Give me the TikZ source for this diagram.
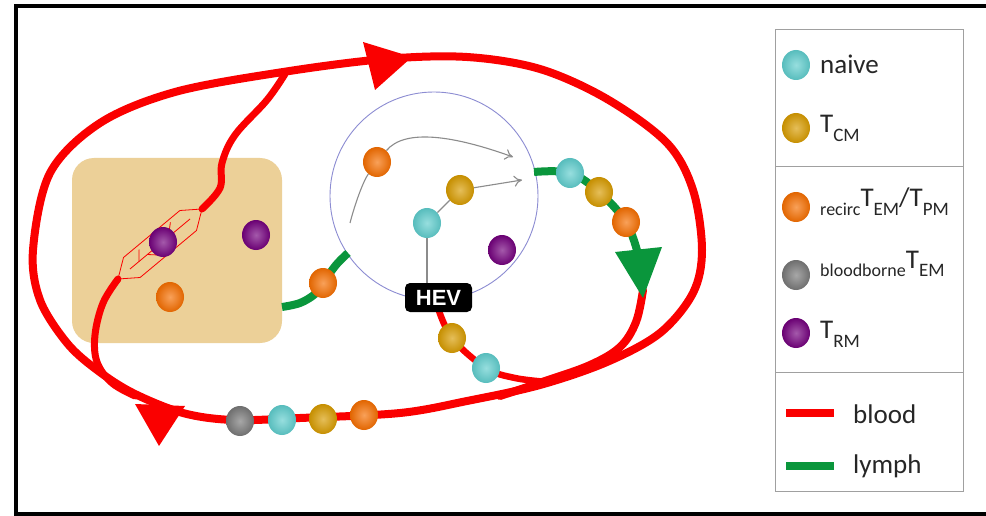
\documentclass[tikz,border=0pt]{standalone}
\usepackage{fontspec}
\setmainfont{Carlito}
\newfontfamily\hevfont{Liberation Sans}
\usetikzlibrary{shapes.geometric, arrows.meta}

\definecolor{blood}{RGB}{250,0,0}
\definecolor{lymph}{RGB}{10,150,60}
\definecolor{naivec}{RGB}{95,205,205}
\definecolor{tcm}{RGB}{215,155,0}
\definecolor{tem}{RGB}{245,110,0}
\definecolor{tbb}{RGB}{120,120,120}
\definecolor{trm}{RGB}{115,0,125}
\definecolor{tissue}{RGB}{236,208,152}
\definecolor{nodeline}{RGB}{140,140,210}
\definecolor{guide}{RGB}{140,140,140}
\definecolor{legline}{RGB}{160,160,160}

% big T with a lowered subscript, and a lowered prefix
\newcommand{\Tsub}[1]{{\fontsize{27}{27}\selectfont T}\raisebox{-9pt}{\fontsize{19}{19}\selectfont #1}}
\newcommand{\lowpre}[1]{\raisebox{-9pt}{\fontsize{18}{18}\selectfont #1}}

\tikzset{
  cell/.style={ellipse, minimum width=28pt, minimum height=30pt, inner sep=0pt,
    shading=radial, inner color=#1!65!white, outer color=#1!92!black},
  bloodline/.style={draw=blood, line width=8pt, line cap=round, line join=round},
  lymphline/.style={draw=lymph, line width=8pt, line join=round},
  vessel/.style={draw=blood, line width=0.8pt, line join=round},
  track/.style={draw=guide, line width=1.1pt},
  tracktip/.style={-{To[length=8pt,width=11pt,line width=1.1pt]}},
  legtext/.style={anchor=base west, inner sep=0pt, font=\fontsize{27}{27}\selectfont, text=black!85},
}

\begin{document}
\begin{tikzpicture}[x=1pt,y=-1pt]
\useasboundingbox (0,0) rectangle (986,516);
\fill[white] (0,0) rectangle (986,516);

% outer frame
\draw[line width=4pt] (1000,6) -- (16,6) -- (16,514) -- (1000,514);

% peripheral tissue
\fill[tissue, rounded corners=22pt] (72,158) rectangle (282,343);

% lymph node
\draw[nodeline, line width=0.9pt] (434,196) circle[radius=104];

% blood circulation
\draw[bloodline] plot[smooth cycle, tension=0.55] coordinates {
  (283,72) (385,59) (467,57) (540,69) (607,99) (667,143) (693,190) (702,250)
  (693,293) (660,333) (607,362) (540,385) (467,401) (400,413) (300,418)
  (233,420) (183,413) (133,393) (97,370) (67,343) (40,300) (33,250)
  (50,173) (100,123) (175,92)};
\draw[bloodline, line width=7pt] plot[smooth, tension=0.6] coordinates {
  (285,74) (267,100) (235,135) (222,163) (220,188) (202,209)};
\draw[bloodline, line width=7pt] plot[smooth, tension=0.6] coordinates {
  (118,279) (103,303) (95,335) (97,362) (112,383) (135,396)};
\draw[bloodline] plot[smooth, tension=0.6] coordinates {
  (643,290) (636,322) (620,347) (590,365) (545,381) (500,396)};
\draw[bloodline, line width=6.5pt] plot[smooth, tension=0.6] coordinates {
  (437,305) (452,338) (486,368) (515,378) (548,382)};

% capillary bed in the tissue
\draw[vessel] (118,279) -- (140.1,277.5) -- (196.5,230.5) -- (202,209)
  -- (179.9,210.5) -- (123.5,257.5) -- cycle;
\draw[vessel] (130,269) -- (190,219);
\draw[vessel] (147.4,254.5) -- (162.2,255.2);
\draw[vessel] (168.4,237) -- (170.4,222.3);
\draw[vessel] (139,261.5) -- (139.1,249.7);

% lymph vessels
\draw[lymphline] plot[smooth, tension=0.6] coordinates {
  (282,307) (300,303) (315,294) (323,283) (336,265) (348,253)};
\draw[lymphline] plot[smooth, tension=0.6] coordinates {
  (534,172) (570,173) (599,192) (626,222) (638,254)};

% flow arrowheads
\fill[blood] (363,42) -- (412,57) -- (375,90) -- cycle;
\fill[blood] (135,404) -- (185,406) -- (159,446) -- cycle;
\fill[lymph] (615,252) -- (662,247) -- (643,298) -- cycle;

% HEV label
\node[fill=black, rounded corners=5pt, minimum width=67pt, minimum height=29pt,
  inner sep=0pt, text=white, font=\hevfont\bfseries\fontsize{22}{22}\selectfont]
  (hev) at (438.5,297.5) {HEV};

% cells inside the lymph node
\node[cell=tem] (nTem) at (377,162) {};
\node[cell=tcm] (nTcm) at (460,190) {};
\node[cell=naivec] (nNaive) at (427,223) {};
\node[cell=trm] (nTrm) at (502,250) {};
\coordinate (tOut1) at (513,157);
\coordinate (tOut2) at (522,180);
\coordinate (tIn) at (350,223);

% migration tracks
\draw[track] (tIn) .. controls (356,200) and (364,180) .. (nTem);
\draw[track, tracktip] (nTem) .. controls (405,128) and (455,136) .. (tOut1);
\draw[track] (nNaive) -- (nTcm);
\draw[track, tracktip] (nTcm) -- (tOut2);
\draw[track] (nNaive.south) -- (nNaive.south |- hev.north);

% cells in the tissue
\node[cell=trm] (sTrm1) at (163,242) {};
\node[cell=trm] (sTrm2) at (256,235) {};
\node[cell=tem] (sTem) at (170,297) {};

% cells in vessels
\node[cell=tem] (lTem) at (323,283) {};
\node[cell=naivec] (eNaive) at (570,173) {};
\node[cell=tcm] (eTcm) at (599,192) {};
\node[cell=tem] (eTem) at (626,222) {};
\node[cell=tcm] (hTcm) at (452,338) {};
\node[cell=naivec] (hNaive) at (486,368) {};
\node[cell=tbb] (bBb) at (240,421) {};
\node[cell=naivec] (bNaive) at (282,420) {};
\node[cell=tcm] (bTcm) at (323,419) {};
\node[cell=tem] (bTem) at (364,415) {};

% legend
\draw[legline, line width=1pt] (775,30) rectangle (963,491);
\draw[legline, line width=1pt] (775,167) -- (963,167);
\draw[legline, line width=1pt] (775,372) -- (963,372);

\node[cell=naivec] (kNaive) at (796,65) {};
\node[cell=tcm] (kTcm) at (796,128) {};
\node[cell=tem] (kTem) at (796,207) {};
\node[cell=tbb] (kBb) at (796,275) {};
\node[cell=trm] (kTrm) at (796,333) {};
\node[legtext] (lNaive) at (820,74) {naive};
\node[legtext] (lTcm) at (820,133) {\Tsub{CM}};
\node[legtext] (lTem) at (820,207) {\lowpre{recirc}\Tsub{EM}/\Tsub{PM}};
\node[legtext] (lBb) at (820,268) {\lowpre{bloodborne}\Tsub{EM}};
\node[legtext] (lTrm) at (820,338) {\Tsub{RM}};

\coordinate (kb1) at (786,413);
\coordinate (kb2) at (834,413);
\coordinate (kl1) at (786,466);
\coordinate (kl2) at (834,466);
\draw[draw=blood, line width=8pt] (kb1) -- (kb2);
\draw[draw=lymph, line width=8pt] (kl1) -- (kl2);
\node[legtext] (lBlood) at (853,423) {blood};
\node[legtext] (lLymph) at (853,473) {lymph};
\end{tikzpicture}
\end{document}
